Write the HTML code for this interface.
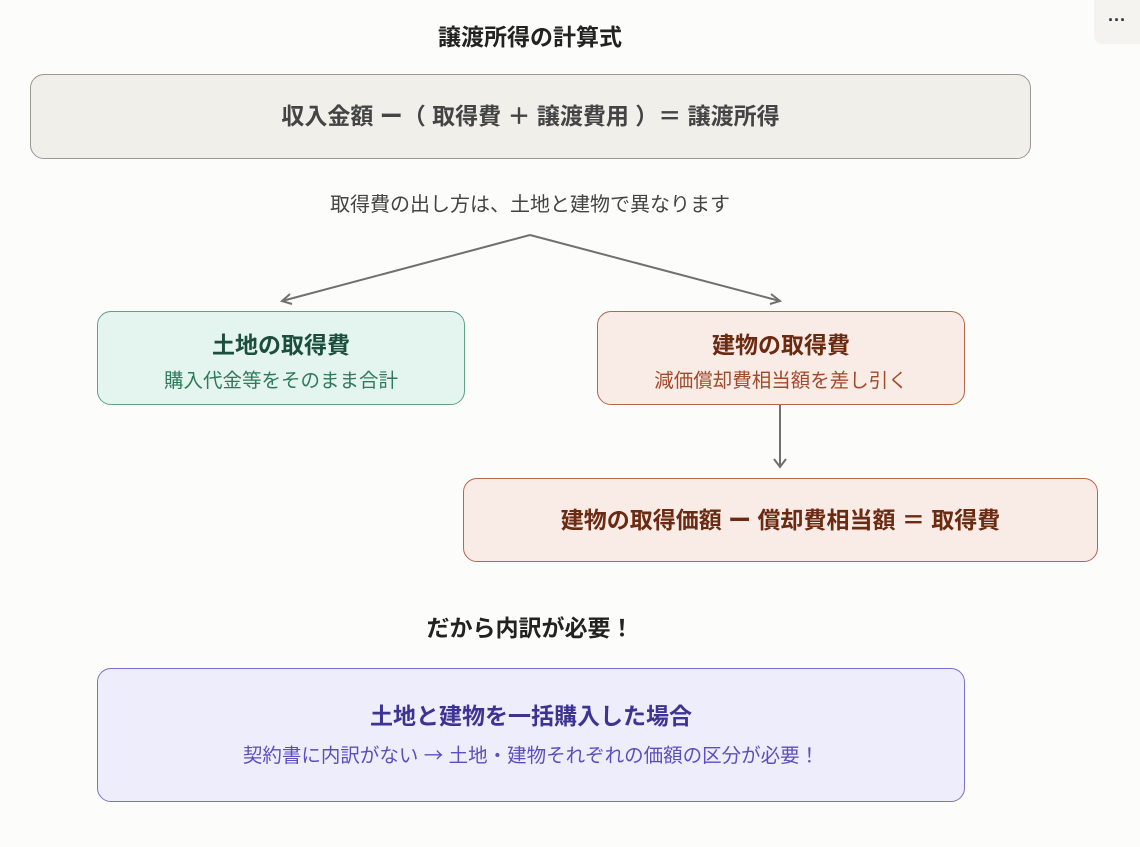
<!DOCTYPE html>
<html><head><meta charset="utf-8"><style>
body{margin:0;width:1140px;height:847px;background:#fcfcfa;font-family:"Liberation Sans","Noto Sans CJK JP",sans-serif;position:relative;overflow:hidden}
.a{position:absolute;box-sizing:border-box;text-align:center;white-space:nowrap}
.box{border-radius:14px;border:1px solid}
.t{position:absolute;left:0;right:0;text-align:center}
</style></head><body>
<div class="a" style="left:1094px;top:0;width:46px;height:44px;background:#f4f3ef;border-radius:0 0 0 8px;font-size:18px;line-height:40px;color:#333;font-weight:bold">···</div>
<div class="a" style="left:330px;top:22px;width:400px;font-size:23px;line-height:30px;font-weight:bold;color:#222">譲渡所得の計算式</div>
<div class="a box" style="left:30px;top:74px;width:1001px;height:85px;background:#f1efe9;border-color:#9a9890;font-size:23px;font-weight:bold;line-height:83px;color:#444">収入金額 ー（ 取得費 ＋ 譲渡費用 ）＝ 譲渡所得</div>
<div class="a" style="left:230px;top:192px;width:600px;font-size:20px;line-height:26px;color:#444">取得費の出し方は、土地と建物で異なります</div>
<svg class="a" style="left:0;top:0" width="1140" height="847"><g fill="none" stroke="#707070" stroke-width="2">
<path d="M530 235 L282 301 M530 235 L780 301 M780 405 L780 467"/>
<path d="M290 294 L282 301 L292 304 M771 294 L780 301 L770 304 M774 459 L780 467 L786 459"/></g></svg>
<div class="a box" style="left:97px;top:311px;width:368px;height:94px;background:#e4f4ee;border-color:#5ea08a">
<div class="t" style="top:18px;font-size:23px;line-height:30px;font-weight:bold;color:#1b4e3c">土地の取得費</div>
<div class="t" style="top:56px;font-size:19.5px;line-height:26px;color:#2f7a5e">購入代金等をそのまま合計</div></div>
<div class="a box" style="left:597px;top:311px;width:368px;height:94px;background:#f9ebe6;border-color:#b5664b">
<div class="t" style="top:18px;font-size:23px;line-height:30px;font-weight:bold;color:#6b2a12">建物の取得費</div>
<div class="t" style="top:56px;font-size:19.5px;line-height:26px;color:#a24b2b">減価償却費相当額を差し引く</div></div>
<div class="a box" style="left:463px;top:478px;width:635px;height:84px;background:#f9ebe6;border-color:#b5664b;font-size:23px;font-weight:bold;line-height:82px;color:#6b2a12">建物の取得価額 ー 償却費相当額 ＝ 取得費</div>
<div class="a" style="left:330px;top:613px;width:400px;font-size:23px;line-height:30px;font-weight:bold;color:#222">だから内訳が必要！</div>
<div class="a box" style="left:97px;top:668px;width:868px;height:134px;background:#eeedfc;border-color:#7b6fd0">
<div class="t" style="top:32px;font-size:23px;line-height:30px;font-weight:bold;color:#3d3393">土地と建物を一括購入した場合</div>
<div class="t" style="top:72px;font-size:19.5px;line-height:26px;color:#5a4fc0">契約書に内訳がない <span style="font-family:'Noto Sans CJK JP',sans-serif">→</span> 土地・建物それぞれの価額の区分が必要！</div></div>
</body></html>
